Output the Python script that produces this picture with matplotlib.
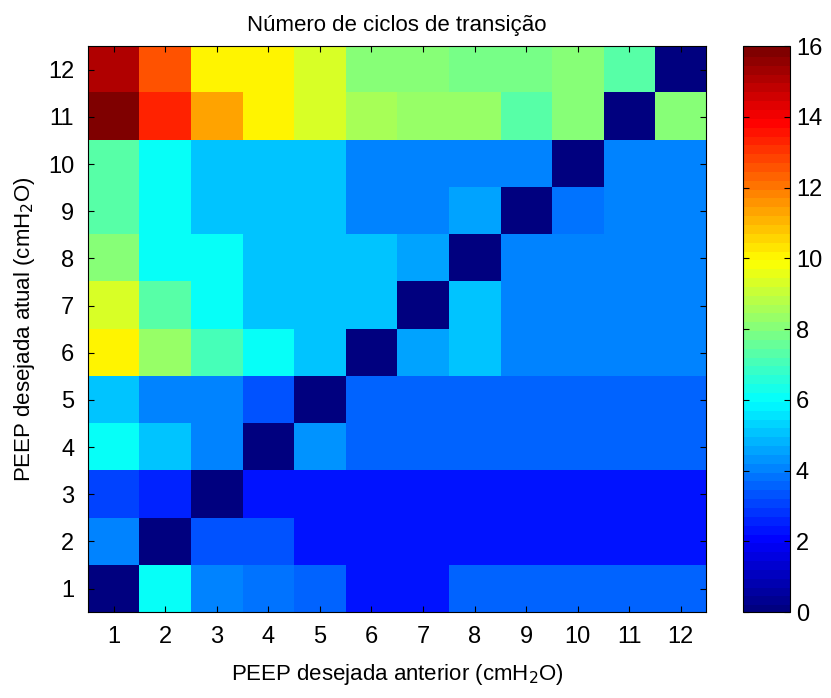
import numpy as np
import matplotlib
matplotlib.use("Agg")
import matplotlib.pyplot as plt
from matplotlib.colors import ListedColormap

plt.rcParams["font.family"] = ["Liberation Sans", "DejaVu Sans"]

# PEEP levels (cmH2O)
peep_anterior = list(range(1, 13))
peep_atual = list(range(1, 13))

# number of transition cycles, rows = PEEP atual 1..12, cols = PEEP anterior 1..12
row_1 = [0.0, 6.1, 4.2, 3.9, 3.5, 2.3, 2.3, 3.7, 3.7, 3.7, 3.7, 3.7]
row_2 = [4.2, 0.0, 3.4, 3.4, 2.3, 2.3, 2.3, 2.3, 2.3, 2.3, 2.3, 2.3]
row_3 = [3.2, 2.5, 0.0, 2.3, 2.3, 2.3, 2.3, 2.3, 2.3, 2.3, 2.3, 2.3]
row_4 = [6.1, 5.1, 4.2, 0.0, 4.3, 3.5, 3.5, 3.5, 3.5, 3.5, 3.5, 3.5]
row_5 = [5.0, 4.2, 4.2, 3.4, 0.0, 3.5, 3.5, 3.5, 3.5, 3.5, 3.5, 3.5]
row_6 = [10.0, 8.4, 7.1, 6.1, 5.1, 0.0, 4.5, 5.1, 4.2, 4.2, 4.2, 4.2]
row_7 = [9.3, 7.4, 6.0, 5.0, 5.0, 5.0, 0.0, 5.2, 4.2, 4.2, 4.2, 4.2]
row_8 = [8.1, 6.1, 6.0, 5.1, 5.1, 5.1, 4.7, 0.0, 4.2, 4.2, 4.2, 4.2]
row_9 = [7.3, 6.1, 5.0, 5.0, 5.0, 4.2, 4.2, 4.7, 0.0, 3.9, 4.2, 4.2]
row_10 = [7.3, 6.1, 5.0, 5.0, 5.0, 4.2, 4.2, 4.2, 4.2, 0.0, 4.2, 4.2]
row_11 = [15.9, 13.4, 11.3, 10.0, 9.3, 8.7, 8.4, 8.4, 7.3, 8.2, 0.0, 8.2]
row_12 = [15.0, 12.7, 10.1, 10.0, 9.3, 8.2, 8.2, 7.8, 7.8, 8.2, 7.3, 0.0]

ciclos = np.array([row_1, row_2, row_3, row_4, row_5, row_6,
                   row_7, row_8, row_9, row_10, row_11, row_12])

# MATLAB style jet with 64 colours
t = np.linspace(0, 1, 64)
r = np.clip(np.minimum(4 * t - 1.5, -4 * t + 4.5), 0, 1)
g = np.clip(np.minimum(4 * t - 0.5, -4 * t + 3.5), 0, 1)
b = np.clip(np.minimum(4 * t + 0.5, -4 * t + 2.5), 0, 1)
jet64 = ListedColormap(np.column_stack([r, g, b]))

fig = plt.figure(figsize=(8.31, 6.98), dpi=100)
ax = fig.add_axes([0.106, 0.123, 0.744, 0.811])
cax = fig.add_axes([0.894, 0.123, 0.057, 0.811])

im = ax.imshow(ciclos, cmap=jet64, vmin=0, vmax=16, origin="lower",
               extent=(0.5, 12.5, 0.5, 12.5), aspect="auto",
               interpolation="nearest")

ax.set_xticks(peep_anterior)
ax.set_yticks(peep_atual)
ax.tick_params(direction="in", length=4, top=True, right=True,
               labelsize=17, pad=10)
ax.set_title("Número de ciclos de transição", fontsize=16, pad=11)
ax.set_xlabel("PEEP desejada anterior (cmH$_2$O)", fontsize=16, labelpad=10)
ax.set_ylabel("PEEP desejada atual (cmH$_2$O)", fontsize=16, labelpad=8)

cb = fig.colorbar(im, cax=cax, ticks=[0, 2, 4, 6, 8, 10, 12, 14, 16])
cb.ax.tick_params(direction="in", length=4, labelsize=17, left=True, pad=4)
cb.outline.set_linewidth(0.8)
cb.solids.set_edgecolor("face")

fig.savefig("out.png", dpi=100)
